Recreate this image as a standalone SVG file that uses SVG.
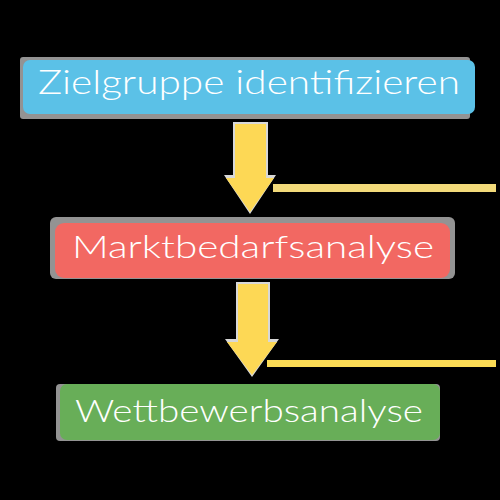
<svg xmlns="http://www.w3.org/2000/svg" width="500" height="500" viewBox="0 0 500 500">
<style>
.shadow{fill:#939393}
.lbl{font-family:"Lato","Noto Sans","DejaVu Sans",sans-serif;font-weight:300;fill:#ffffff;text-anchor:middle}
.arrow{fill:#fdd855}
.ashadow{fill:#d8d8d8}
</style>
<rect width="500" height="500" fill="#000000"/>
<g id="connectors">
<g id="arrow1">
<path class="ashadow" d="M233,122 H268 V175 H276 L250,214 L224,175 H233 Z"/>
<path class="arrow" d="M235,124 H266 V178 H274 L250,212 L226,178 H235 Z"/>
<rect x="273" y="184" width="223" height="8" fill="#f2da7a"/>
</g>
<g id="arrow2">
<path class="ashadow" d="M236,282 H270 V339 H279 L252,377 L225,339 H236 Z"/>
<path class="arrow" d="M238,284 H268 V342 H277 L252,375 L227,342 H238 Z"/>
<rect x="267" y="360" width="229" height="7" fill="#fcdc55"/>
</g>
</g>
<g id="node1">
<rect class="shadow" x="20" y="57" width="450" height="62" rx="3"/>
<rect x="23" y="60" width="452" height="54" rx="7" fill="#5bc1e7"/>
<text class="lbl" x="249" y="94" font-size="34" textLength="422" lengthAdjust="spacingAndGlyphs">Zielgruppe identifizieren</text>
</g>
<g id="node2">
<rect class="shadow" x="50" y="217" width="405" height="62" rx="6"/>
<rect x="55" y="223" width="395" height="55" rx="9" fill="#f26862"/>
<text class="lbl" x="253" y="258" font-size="31" textLength="362" lengthAdjust="spacingAndGlyphs">Marktbedarfsanalyse</text>
</g>
<g id="node3">
<rect class="shadow" x="56" y="384" width="384" height="57" rx="4"/>
<rect x="60" y="384" width="380" height="56" rx="7" fill="#68ae58"/>
<text class="lbl" x="249" y="422" font-size="32" textLength="348" lengthAdjust="spacingAndGlyphs">Wettbewerbsanalyse</text>
</g>
</svg>
